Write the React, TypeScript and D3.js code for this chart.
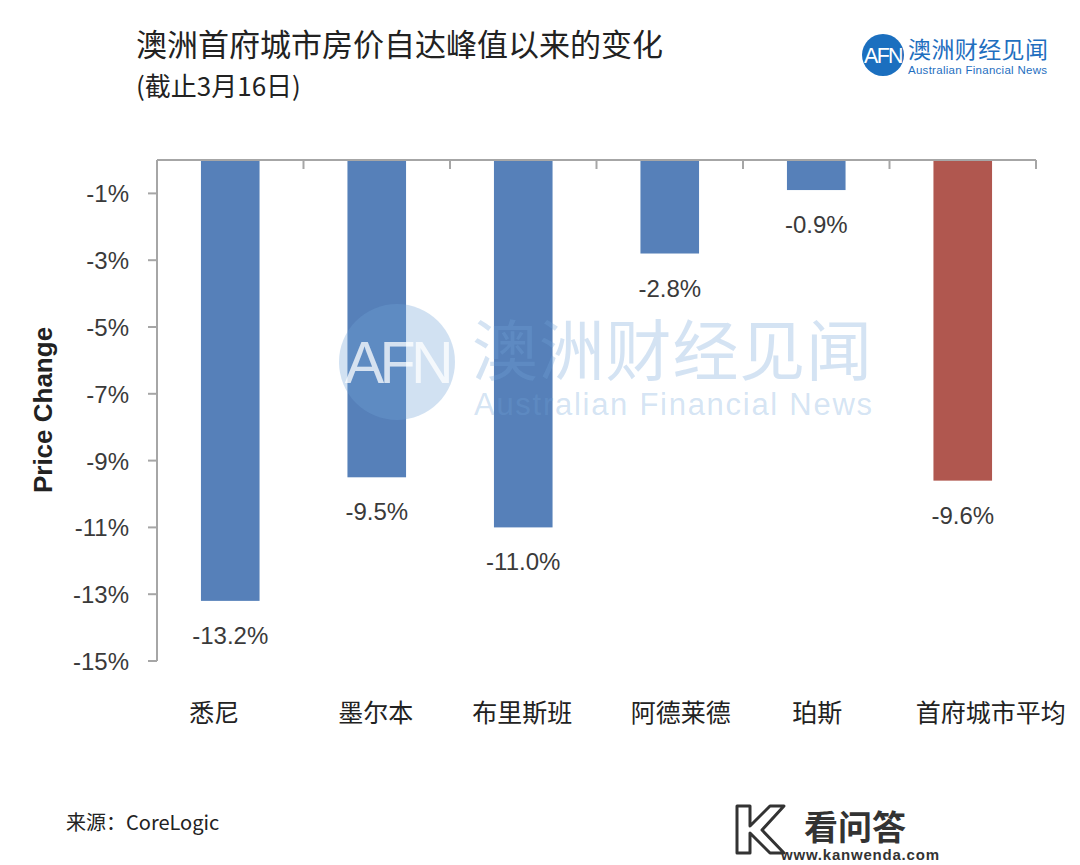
import React, { useEffect, useRef } from "react";
import * as d3 from "d3";

// data
const cities = ["悉尼", "墨尔本", "布里斯班", "阿德莱德", "珀斯", "首府城市平均"];
const changes = [-13.2, -9.5, -11.0, -2.8, -0.9, -9.6];
const yTicks = [-1, -3, -5, -7, -9, -11, -13, -15];

const title = "澳洲首府城市房价自达峰值以来的变化";
const subtitle = "(截止3月16日)";
const source = "来源：CoreLogic";

// layout
const W = 1080;
const H = 865;
const left = 157;
const right = 1036;
const top = 160;
const bottom = 661;
// the category labels in the original sit a little off their bars
const labelNudge = [-16, -1, -1, 11, 1, 28];

const BLUE = "#5680b9";
const RED = "#b0574f";
const AXIS = "#a6a6a6";
const TEXT = "#3a3a3a";
const CJK = "'Noto Sans CJK SC', 'Noto Sans', sans-serif";
const LATIN = "'Liberation Sans', Arial, sans-serif";

function drawAfnMark(g: any, cx: number, cy: number, r: number, fill: string, op: number) {
  g.append("circle").attr("cx", cx).attr("cy", cy).attr("r", r)
    .attr("fill", fill).attr("fill-opacity", op);
  g.append("text").attr("x", cx).attr("y", cy + r * 0.36)
    .attr("text-anchor", "middle")
    .attr("font-family", LATIN).attr("font-size", r * 1.02)
    .attr("letter-spacing", -r * 0.08)
    .attr("fill", "#fff").attr("fill-opacity", op > 0.6 ? 1 : 0.75)
    .text("AFN");
}

export default function App() {
  const ref = useRef<SVGSVGElement>(null);

  useEffect(() => {
    const svg = d3.select(ref.current);
    svg.selectAll("*").remove();

    const x = d3.scaleBand<string>().domain(cities).range([left, right]).paddingInner(0.6).paddingOuter(0.3);
    const y = d3.scaleLinear().domain([0, -15]).range([top, bottom]);
    const step = x.step();

    // titles
    svg.append("text").attr("x", 136).attr("y", 56)
      .attr("font-family", CJK).attr("font-size", 31).attr("fill", "#222")
      .text(title);
    svg.append("text").attr("x", 136).attr("y", 96)
      .attr("font-family", CJK).attr("font-size", 26).attr("fill", "#222")
      .text(subtitle);

    // top-right logo
    const logo = svg.append("g");
    drawAfnMark(logo, 883, 55, 21, "#1b6fbf", 1);
    logo.append("text").attr("x", 908).attr("y", 58)
      .attr("font-family", CJK).attr("font-size", 23).attr("fill", "#1f6fbf")
      .attr("textLength", 140).text("澳洲财经见闻");
    logo.append("text").attr("x", 908).attr("y", 74)
      .attr("font-family", LATIN).attr("font-size", 11.5).attr("fill", "#1f6fbf")
      .attr("textLength", 139).text("Australian Financial News");

    // bars
    svg.append("g").selectAll("rect").data(cities).join("rect")
      .attr("x", (d) => x(d)!)
      .attr("y", top)
      .attr("width", x.bandwidth())
      .attr("height", (d, i) => y(changes[i]) - top)
      .attr("fill", (d, i) => (i === cities.length - 1 ? RED : BLUE));

    // value labels under bar ends
    svg.append("g").selectAll("text").data(cities).join("text")
      .attr("x", (d) => x(d)! + x.bandwidth() / 2)
      .attr("y", (d, i) => y(changes[i]) + 43)
      .attr("text-anchor", "middle")
      .attr("font-family", LATIN).attr("font-size", 24).attr("fill", TEXT)
      .text((d, i) => changes[i].toFixed(1) + "%");

    // axes
    const axes = svg.append("g").attr("stroke", AXIS).attr("stroke-width", 2).attr("fill", "none");
    axes.append("line").attr("x1", left).attr("x2", left).attr("y1", top).attr("y2", y(-15));
    axes.append("line").attr("x1", left).attr("x2", right).attr("y1", top).attr("y2", top);
    axes.selectAll(".yt").data(yTicks).join("line").attr("class", "yt")
      .attr("x1", left - 9).attr("x2", left).attr("y1", (d) => y(d)).attr("y2", (d) => y(d));
    axes.selectAll(".xt").data(d3.range(cities.length + 1)).join("line").attr("class", "xt")
      .attr("x1", (i) => left + i * step).attr("x2", (i) => left + i * step)
      .attr("y1", top).attr("y2", top + 9);

    svg.append("g").selectAll("text").data(yTicks).join("text")
      .attr("x", 129).attr("y", (d) => y(d) + 9)
      .attr("text-anchor", "end")
      .attr("font-family", LATIN).attr("font-size", 24).attr("fill", TEXT)
      .text((d) => d + "%");

    svg.append("text")
      .attr("transform", "translate(52,410) rotate(-90)")
      .attr("text-anchor", "middle")
      .attr("font-family", LATIN).attr("font-weight", "bold").attr("font-size", 26).attr("fill", "#222")
      .text("Price Change");

    svg.append("g").selectAll("text").data(cities).join("text")
      .attr("x", (d, i) => x(d)! + x.bandwidth() / 2 + labelNudge[i])
      .attr("y", 722)
      .attr("text-anchor", "middle")
      .attr("font-family", CJK).attr("font-size", 25).attr("fill", "#222")
      .text((d) => d);

    // watermark over the plot
    const wm = svg.append("g");
    drawAfnMark(wm, 397, 362, 58, "#6fa3d8", 0.32);
    wm.append("text").attr("x", 472).attr("y", 375)
      .attr("font-family", CJK).attr("font-size", 66).attr("fill", "#6fa3d8").attr("fill-opacity", 0.3)
      .attr("textLength", 400).text("澳洲财经见闻");
    wm.append("text").attr("x", 474).attr("y", 415)
      .attr("font-family", LATIN).attr("font-size", 31).attr("fill", "#6fa3d8").attr("fill-opacity", 0.3)
      .attr("textLength", 398).text("Australian Financial News");

    // source
    svg.append("text").attr("x", 66).attr("y", 830)
      .attr("font-family", CJK).attr("font-size", 20).attr("fill", "#222")
      .text(source);

    // kanwenda mark
    const kw = svg.append("g");
    kw.append("path")
      .attr("d", "M737,806 L750,806 L750,826 L770,806 L784,806 L762,830 L784,853 L770,853 L750,833 L750,853 L737,853 Z")
      .attr("fill", "#fff").attr("stroke", "#333").attr("stroke-width", 3).attr("stroke-linejoin", "round");
    kw.append("text").attr("x", 804).attr("y", 840)
      .attr("font-family", CJK).attr("font-weight", "bold").attr("font-size", 34).attr("fill", "#333")
      .text("看问答");
    kw.append("text").attr("x", 781).attr("y", 860)
      .attr("font-family", LATIN).attr("font-weight", "bold").attr("font-size", 15).attr("fill", "#333")
      .attr("textLength", 158).text("www.kanwenda.com");
  }, []);

  return (
    <svg
      ref={ref}
      width={W}
      height={H}
      viewBox={`0 0 ${W} ${H}`}
      style={{ position: "absolute", left: 0, top: 0, background: "#fff" }}
    />
  );
}
